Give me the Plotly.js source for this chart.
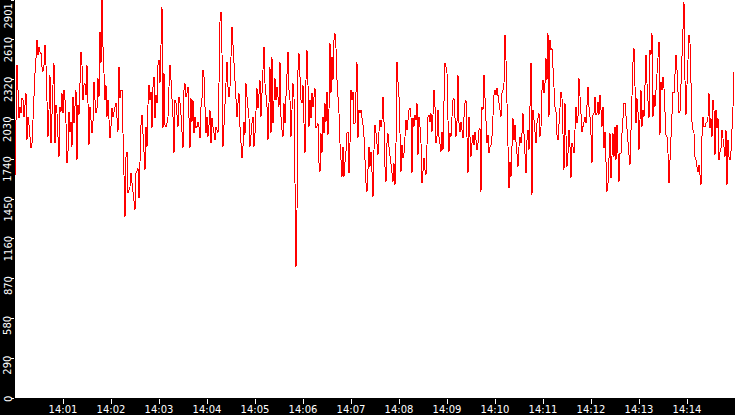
<!DOCTYPE html>
<html>
<head>
<meta charset="utf-8">
<script src="https://cdn.plot.ly/plotly-3.0.1.min.js"></script>
<style>
html,body{margin:0;padding:0;background:#000;}
#chart{width:735px;height:415px;}
.js-plotly-plot .scatterlayer .js-line{shape-rendering:crispEdges;}
</style>
</head>
<body>
<div id="chart"></div>
<script>
// Sampling: one reading every 1.25 s starting at 14:00:00
const startTime = "2024-01-01 14:00:00";
const stepSeconds = 1.25;

const seg1 = [1613,2063,2427,2245,2038,2123,2075,2184,2172,2050,2160,2221,1880,2050,1990,1856,1820,1856,2050,2233,
2366,2476,2609,2500,2561,2524,2512,2415,2379,2427,2573,2427,2099,1905,2099,2354,1856,2172,2281,2439,
1856,2136,2075,1905,1759,2123,2087,2221,2075,2245,2172,2002,1710,1795,2087,1941,2014,1832,2196,2002,
2136,2245,1735,2136,2063,2330,2524,2427,2172,2281,2293,2208,2427,2148,1844,2123,2050,1929,2014,2306,
2172,2075,2111,2330,2196,2670,2439,2901,2561,2318,2172,2281,2050,2172,2026,1893];

const seg2 = [1978,2111,2050,2099,2123,2148,2014,1941,2415,2184,2245,2245,1929,1589,1321,1759,1795,1492,1528,1540,
1637,1565,1540,1467,1370,1637,1662,1674,1455,1807,1990,2063,1905,1759,1662,1978,1832,2136,2281,2172,
2233,1965,2269,2342,2038,2208,2148,2427,2464,2293,2609,2852,1965,2366,1990,1978,2002,2050,2269,2427,
2318,2172,2050,1783,2172,2148,2075,1978,2196,2148,2063,1953,1820,2245,2293,2196,2221,2269,2050,1820,
2184,2014,2172,1929,2050,1965,1978,2014,1978,1893];

const seg3 = [2123,2184,2391,2342,2123,1929,2050,1905,1990,2099,1856,2038,1978,1929,1880,1978,1953,1929,2293,2743,
2816,2512,1832,2002,2160,2366,2451,2269,2196,2269,2585,2707,2573,2427,2293,2221,2050,2148,2221,1978,
1856,1747,1832,2014,1917,2293,2196,2099,2038,1832,1953,2002,2050,1832,1929,2123,2257,2111,2208,2318,
2050,2221,2464,2561,2293,2172,2123,1880,2099,2415,1929,2488,2002,2196,2330,2172,2269,2196,2123,2451,
2050,1953,1905,2148,2002,2196,2391,2524,2245,2172,1905,2063,2293,2196,1613,957,1358,2391,2512,2245,
2172,2148,2281,2002,1783,2318,2536,2281,1978,2172,2038,2221,2123,2196,2257,1965,1978,2002,1710,1650,
1929,1783,2050,1929,2148,2014,2233,1917,2099,2585,2221,2488,2318,2609,2658,2549,2318,2196,2075,1856,
1686,1613,1832,1613,1722,1795,1929,1941,1637,1856,2245,2172,2233,2002];

const seg4 = [2002,2245,2451,1893,2099,2075,2099,2038,1990,1905,1710,1565,1504,1735,1832,1686,1795,1650,1467,1807,
1990,1929,1820,1771,1941,2026,1978,2026,2196,2014,1686,1577,1856,1929,1832,1759,1686,1601,1577,1710,
1552,1856,2451,2306,2196,1929,1650,1844,1747,1783,1905,2026,1953,2038,2099,2111,2050,1637,2038,1978,
2063,2026,2148,1771,2050,1978,1856,1565,1674,1747,1662,1625,1844,2050,2063,2014,2075,1941,2063,2245,
2123,1856,1905,2099,1905,1832,1795,1941,1807,2160,2439,2415,2366,2026,1795,1929,1905,2050,2172,2184,
1965,1905,2014,2354,2002,1941,2014,1953,1893,2050,2148,2172,1880,1637,2050,1941,1759,1856,1917,1844,
1941,1880,1807,1856,1953,1965,1504,2123,2099,2354,2172,1905,1856,1917,1783,1832,1844,1905,2123,2208,
2245,2208,2257,2208,2172,2099,2050,2221,2245,2293,2646,2464,2148,2026,1528,1722,1613,1832,2038,1880];

const seg5 = [1990,1868,1783,1686,1832,1905,1856,1929,2075,1905,1698,1637,1880,1953,1807,2196,2439,1479,2099,2026,
1929,1856,2002,2050,2075,1905,1978,2245,2318,2221,2293,2476,2318,2658,2050,2609,2536,2549,2391,2172,
2123,2087,1917,1880,2002,2172,2233,2184,1783,1662,2148,1783,1686,1783,1953,1832,1601,1856,1832,1783,
1965,2123,2002,2050,2330,2172,2099,1941,1978,2026,2050,2002,2172,2269,2123,2050,1917,1710,2063,2075,
2196,2063,2075,2160,2063,2208,2099,1978,2123,1820,1941,1625,1504,1565,1759,1929,1601,1807,1929,1759,
1978,1735,1990,1783,1577,1783,1783,1929,2087,2148];

const seg6 = [2148,2050,1905,1856,1771,1698,2026,2354,2451,2549,2123,2002,2184,2087,1807,2075,2245,1978,2099,2050,
2403,2500,2293,2196,2038,2536,2500,2658,2050,2208,2123,2245,2379,2451,2597,1917,2306,2245,2342,2257,
2002,1917,1905,1783,1565,1735,1965,2148,2233,2221,2354,2500,2391,2221,2075,2087,2330,2585,2780,2889,
2318,2063,2281,2476,2646,2585,2306,2014,1953,1929,1759,1735,1686,1650,1698,1637,1552,1905,2050,1978,
1978,2002,2014,2050,2221,1965,2038,1905,2172,2099,1771,2099,1965,2038,1735,1795,1820,1953,1905,1832,
1759,1953,1552,1880,1759,1735,1795,1929,2123,2379];

const values = seg1.concat(seg2, seg3, seg4, seg5, seg6);

const xTickLabels = ["14:01","14:02","14:03","14:04","14:05","14:06","14:07","14:08","14:09","14:10","14:11","14:12","14:13","14:14"];
const yTickVals = [0, 290.1, 580.2, 870.3, 1160.4, 1450.5, 1740.6, 2030.7, 2320.8, 2610.9, 2901];
const yTickLabels = ["0","290","580","870","1160","1450","1740","2030","2320","2610","2901"];

const t0 = new Date(startTime.replace(" ", "T") + "Z").getTime();
function fmt(ms){
  const d = new Date(ms);
  const p = n => String(n).padStart(2,"0");
  return d.getUTCFullYear()+"-"+p(d.getUTCMonth()+1)+"-"+p(d.getUTCDate())+" "+p(d.getUTCHours())+":"+p(d.getUTCMinutes())+":"+p(d.getUTCSeconds())+"."+String(d.getUTCMilliseconds()).padStart(3,"0");
}
const times = values.map((v,i) => fmt(t0 + i*stepSeconds*1000));
const xTickVals = xTickLabels.map(l => "2024-01-01 " + l + ":00");

const trace = {
  x: times, y: values, type: "scatter", mode: "lines",
  line: {color: "#ff0000", width: 1},
  hoverinfo: "skip"
};

// y labels: rotated text whose upper end sits just above its tick
const lastIdx = yTickLabels.length - 1;
const labelFont = {family: "DejaVu Sans", size: 10, color: "#ffffff"};
const yAnnotations = yTickLabels.map((t,i) => ({
  text: t, xref: "paper", yref: "y",
  x: 0, xshift: -7, y: yTickVals[i], yshift: i === lastIdx ? -3 : 3,
  xanchor: "center", yanchor: "top", textangle: -90, showarrow: false,
  font: labelFont, borderpad: 0
}));

const layout = {
  width: 735, height: 415,
  margin: {l: 15, r: 0, t: 0, b: 17, pad: 0},
  paper_bgcolor: "#000000",
  plot_bgcolor: "#ffffff",
  showlegend: false,
  font: labelFont,
  xaxis: {
    type: "date",
    range: ["2024-01-01 14:00:00", "2024-01-01 14:15:00"],
    tickmode: "array", tickvals: xTickVals, ticktext: xTickLabels,
    ticks: "outside", ticklen: 5, tickwidth: 1, tickcolor: "#ffffff",
    ticklabelstandoff: -3,
    tickfont: labelFont,
    showgrid: false, zeroline: false, showline: false, fixedrange: true
  },
  yaxis: {
    range: [0, 2901],
    tickmode: "array", tickvals: yTickVals, ticktext: yTickVals.map(() => ""),
    ticks: "outside", ticklen: 3, tickwidth: 1, tickcolor: "#ffffff",
    showgrid: false, zeroline: false, showline: false, fixedrange: true
  },
  annotations: yAnnotations
};

Plotly.newPlot("chart", [trace], layout, {displayModeBar: false, staticPlot: true});
</script>
</body>
</html>
